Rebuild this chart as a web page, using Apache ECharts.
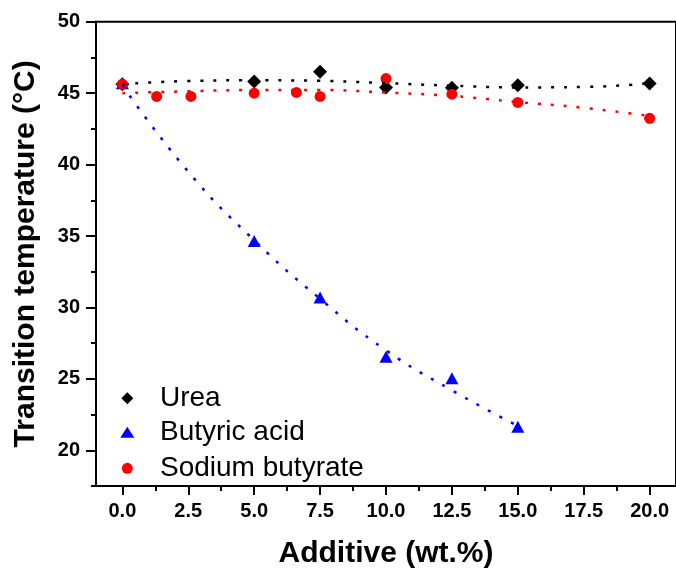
<!DOCTYPE html>
<html>
<head>
<meta charset="utf-8">
<script src="https://cdn.jsdelivr.net/npm/echarts@6/dist/echarts.min.js"></script>
<style>
  html, body { margin: 0; padding: 0; background: #fff; }
  #chart { width: 676px; height: 574px; }
</style>
</head>
<body>
<div id="chart"></div>
<script>
// Measured points
const ureaX = [0, 5, 7.5, 10, 12.5, 15, 20];
const ureaY = [45.63, 45.81, 46.5, 45.4, 45.38, 45.55, 45.68];

const butyricX = [0, 5, 7.5, 10, 12.5, 15];
const butyricY = [45.7, 34.65, 30.7, 26.55, 25.05, 21.65];

const sodiumX = [0, 1.3, 2.6, 5, 6.6, 7.5, 10, 12.5, 15, 20];
const sodiumY = [45.63, 44.77, 44.77, 45.0, 45.05, 44.77, 46.02, 44.93, 44.35, 43.24];

// Fit curves
const ureaFitX = [0, 2.5, 5, 7.5, 10, 12.5, 15, 17.5, 20];
const ureaFitY = [45.62, 45.85, 45.9, 45.86, 45.7, 45.52, 45.4, 45.43, 45.7];

const butyricFitX = [0, 2.5, 5, 7.5, 10, 12.5, 15];
const butyricFitY = [45.55, 39.5, 34.7, 30.6, 27.0, 24.2, 21.7];

const sodiumFitX = [0, 2.5, 5, 7.5, 10, 12.5, 15, 17.5, 20];
const sodiumFitY = [45.0, 45.13, 45.22, 45.22, 45.04, 44.8, 44.38, 43.97, 43.4];

// Axis ticks
const xTicks = [0, 2.5, 5, 7.5, 10, 12.5, 15, 17.5, 20];
const xMinorTicks = [1.25, 3.75, 6.25, 8.75, 11.25, 13.75, 16.25, 18.75];
const yTicks = [20, 25, 30, 35, 40, 45, 50];
const yMinorTicks = [17.5, 22.5, 27.5, 32.5, 37.5, 42.5, 47.5];

const pairs = (xs, ys) => xs.map((x, i) => [x, ys[i]]);

const FONT = '"Liberation Sans", Arial, sans-serif';
const BLACK = '#000000';
const BLUE = '#0000ff';
const RED = '#ff0000';

const chart = echarts.init(document.getElementById('chart'), null, { renderer: 'canvas' });

// Shared axis bits
const baseAxis = {
  type: 'value',
  splitLine: { show: false },
  axisLine: { show: true, onZero: false, lineStyle: { color: BLACK, width: 2 } },
};

// minor tick axis, drawn on top of the main one
function minorAxis(min, max, position, ticks) {
  return {
    type: 'value',
    min: min,
    max: max,
    position: position,
    splitLine: { show: false },
    axisLine: { show: false, onZero: false },
    axisTick: { show: true, customValues: ticks, length: 5, lineStyle: { color: BLACK, width: 2 } },
    axisLabel: { show: false },
  };
}

function legendItem(name, icon, w, h, centerY) {
  return {
    left: 127.3 - w / 2,
    top: centerY - 14,
    padding: 0,
    itemWidth: w,
    itemHeight: h,
    selectedMode: false,
    data: [{ name: name, icon: icon }],
    textStyle: {
      fontFamily: FONT,
      fontSize: 28,
      lineHeight: 28,
      color: BLACK,
      padding: [0, 0, 0, 162 - (127.3 + w / 2) - 7],
    },
  };
}

const fitLine = (color) => ({
  color: color,
  width: 2.5,
  type: [3, 10],
  cap: 'butt',
});

const option = {
  animation: false,
  backgroundColor: '#ffffff',
  grid: {
    left: 96,
    top: 21.7,
    width: 583,
    height: 468.7,
    show: true,
    borderColor: BLACK,
    borderWidth: 2,
    containLabel: false,
  },
  legend: [
    legendItem('Urea', 'diamond', 12, 12, 398.3),
    legendItem('Butyric acid', 'triangle', 14, 11, 432.3),
    legendItem('Sodium butyrate', 'circle', 11, 11, 468.3),
  ],
  xAxis: [
    Object.assign({}, baseAxis, {
      min: -1,
      max: 21,
      position: 'bottom',
      name: 'Additive (wt.%)',
      nameLocation: 'middle',
      nameGap: 53,
      nameTextStyle: { fontFamily: FONT, fontSize: 30, fontWeight: 'bold', color: BLACK },
      axisTick: { show: true, customValues: xTicks, length: 9, lineStyle: { color: BLACK, width: 2 } },
      axisLabel: {
        customValues: xTicks,
        margin: 15,
        fontFamily: FONT,
        fontSize: 20,
        fontWeight: 'bold',
        color: BLACK,
        formatter: (v) => v.toFixed(1),
      },
    }),
    minorAxis(-1, 21, 'bottom', xMinorTicks),
  ],
  yAxis: [
    Object.assign({}, baseAxis, {
      min: 17.5,
      max: 50,
      position: 'left',
      name: 'Transition temperature (°C)',
      nameLocation: 'middle',
      nameGap: 55,
      nameTextStyle: { fontFamily: FONT, fontSize: 30, fontWeight: 'bold', color: BLACK },
      axisTick: { show: true, customValues: yTicks, length: 10, lineStyle: { color: BLACK, width: 2 } },
      axisLabel: {
        customValues: yTicks,
        margin: 16,
        fontFamily: FONT,
        fontSize: 20,
        fontWeight: 'bold',
        color: BLACK,
      },
    }),
    minorAxis(17.5, 50, 'left', yMinorTicks),
  ],
  series: [
    {
      name: 'Urea',
      type: 'scatter',
      symbol: 'diamond',
      symbolSize: 14,
      itemStyle: { color: BLACK, opacity: 1 },
      data: pairs(ureaX, ureaY),
      z: 2,
    },
    {
      name: 'Butyric acid',
      type: 'scatter',
      symbol: 'triangle',
      symbolSize: [13, 12],
      itemStyle: { color: BLUE, opacity: 1 },
      data: pairs(butyricX, butyricY),
      z: 2,
    },
    {
      name: 'Sodium butyrate',
      type: 'scatter',
      symbol: 'circle',
      symbolSize: 11,
      itemStyle: { color: RED, opacity: 1 },
      data: pairs(sodiumX, sodiumY),
      z: 2,
    },
    {
      name: 'urea fit',
      type: 'line',
      smooth: true,
      showSymbol: false,
      lineStyle: fitLine(BLACK),
      data: pairs(ureaFitX, ureaFitY),
      z: 3,
    },
    {
      name: 'butyric fit',
      type: 'line',
      smooth: true,
      showSymbol: false,
      lineStyle: fitLine(BLUE),
      data: pairs(butyricFitX, butyricFitY),
      z: 3,
    },
    {
      name: 'sodium fit',
      type: 'line',
      smooth: true,
      showSymbol: false,
      lineStyle: fitLine(RED),
      data: pairs(sodiumFitX, sodiumFitY),
      z: 3,
    },
  ],
};

chart.setOption(option);
</script>
</body>
</html>
